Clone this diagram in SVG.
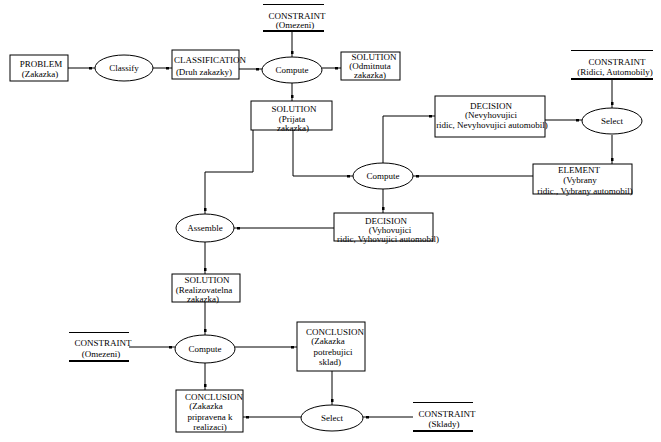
<svg xmlns="http://www.w3.org/2000/svg" width="661" height="442" viewBox="0 0 661 442">
<style>
.bg{fill:#ffffff}
.box{fill:#ffffff;stroke:#000000;stroke-width:1}
.ell{fill:#ffffff;stroke:#000000;stroke-width:1}
.ln{fill:none;stroke:#000000;stroke-width:1}
.thk{fill:none;stroke:#000000;stroke-width:2}
.con{fill:none;stroke:#000000;stroke-width:1;marker-end:url(#sq)}
text{font-family:"Liberation Serif","Times New Roman",serif;font-size:9px;fill:#000000;text-anchor:middle}
</style>
<defs>
<marker id="sq" viewBox="0 0 3 3" markerUnits="userSpaceOnUse" markerWidth="3" markerHeight="3" refX="6" refY="1.5" orient="auto">
<rect x="0" y="0" width="3" height="3" fill="#000000"/>
</marker>
</defs>
<rect class="bg" x="0" y="0" width="661" height="442"/>
<g id="connectors">
<path class="con" d="M68,68 H95"/>
<path class="con" d="M153,68 H172"/>
<path class="con" d="M239,69 H262"/>
<path class="con" d="M292,31 V57"/>
<path class="con" d="M322,68 H341"/>
<path class="con" d="M292,83 V101"/>
<path class="con" d="M612,79 V108"/>
<path class="con" d="M545,120 H582"/>
<path class="con" d="M612,135 V164"/>
<path class="con" d="M533,176 H413"/>
<path class="con" d="M383,163 V116 H435"/>
<path class="con" d="M293,130 V176 H353"/>
<path class="con" d="M253,130 V172 H205 V214"/>
<path class="con" d="M383,189 V213"/>
<path class="con" d="M334,228 H234"/>
<path class="con" d="M205,242 V274"/>
<path class="con" d="M205,302 V335"/>
<path class="con" d="M129,347 H175"/>
<path class="con" d="M235,347 H297"/>
<path class="con" d="M205,363 V390"/>
<path class="con" d="M332,371 V405"/>
<path class="con" d="M301,417 H243"/>
<path class="con" d="M413,417 H363"/>
</g>
<g id="problem">
<rect class="box" x="10" y="55" width="58" height="26"/>
<text x="41" y="67">PROBLEM</text>
<text x="40" y="77">(Zakazka)</text>
</g>
<g id="classify">
<ellipse class="ell" cx="124" cy="68" rx="29" ry="13"/>
<text x="124" y="71">Classify</text>
</g>
<g id="classification">
<rect class="box" x="172" y="50" width="67" height="29"/>
<text x="210" y="63">CLASSIFICATION</text>
<text x="204" y="75">(Druh zakazky)</text>
</g>
<g id="constraint-omezeni-top">
<line class="ln" x1="263" y1="4.5" x2="324" y2="4.5"/>
<line class="thk" x1="263" y1="31" x2="324" y2="31"/>
<text x="297" y="19">CONSTRAINT</text>
<text x="295" y="28">(Omezeni)</text>
</g>
<g id="compute-top">
<ellipse class="ell" cx="292" cy="70" rx="30" ry="13"/>
<text x="292" y="73">Compute</text>
</g>
<g id="solution-odmitnuta">
<rect class="box" x="341" y="52" width="59" height="28"/>
<text x="374" y="60">SOLUTION</text>
<text x="370" y="69">(Odmitnuta</text>
<text x="370" y="78">zakazka)</text>
</g>
<g id="constraint-ridici">
<line class="ln" x1="571" y1="50.5" x2="653" y2="50.5"/>
<line class="thk" x1="571" y1="79" x2="653" y2="79"/>
<text x="617" y="65">CONSTRAINT</text>
<text x="615" y="75">(Ridici, Automobily)</text>
</g>
<g id="solution-prijata">
<rect class="box" x="251" y="101" width="81" height="29"/>
<text x="294" y="112">SOLUTION</text>
<text x="292" y="122">(Prijata</text>
<text x="293" y="131">zakazka)</text>
</g>
<g id="decision-nevyhovujici">
<rect class="box" x="435" y="96" width="110" height="41"/>
<text x="491" y="109">DECISION</text>
<text x="491" y="118">(Nevyhovujici</text>
<text x="492" y="128">ridic, Nevyhovujici automobil)</text>
</g>
<g id="select-top">
<ellipse class="ell" cx="612" cy="121" rx="30" ry="13"/>
<text x="612" y="124">Select</text>
</g>
<g id="compute-mid">
<ellipse class="ell" cx="383" cy="176" rx="30" ry="13"/>
<text x="383" y="179">Compute</text>
</g>
<g id="element">
<rect class="box" x="533" y="164" width="99" height="30"/>
<text x="579" y="173">ELEMENT</text>
<text x="580" y="183">(Vybrany</text>
<text x="585" y="194">ridic., Vybrany automobil)</text>
</g>
<g id="decision-vyhovujici">
<rect class="box" x="334" y="213" width="99" height="28"/>
<text x="386" y="224">DECISION</text>
<text x="390" y="233">(Vyhovujici</text>
<text x="388" y="242">ridic, Vyhovujici automobil)</text>
</g>
<g id="assemble">
<ellipse class="ell" cx="205" cy="228" rx="29" ry="14"/>
<text x="205" y="231">Assemble</text>
</g>
<g id="solution-realizovatelna">
<rect class="box" x="172" y="274" width="68" height="28"/>
<text x="207" y="283">SOLUTION</text>
<text x="204" y="293">(Realizovatelna</text>
<text x="203" y="302">zakazka)</text>
</g>
<g id="compute-bottom">
<ellipse class="ell" cx="205" cy="349" rx="30" ry="14"/>
<text x="205" y="352">Compute</text>
</g>
<g id="constraint-omezeni-left">
<line class="ln" x1="69" y1="332.5" x2="129" y2="332.5"/>
<line class="thk" x1="69" y1="361" x2="129" y2="361"/>
<text x="103" y="346">CONSTRAINT</text>
<text x="101" y="357">(Omezeni)</text>
</g>
<g id="conclusion-potrebujici">
<rect class="box" x="297" y="322" width="68" height="49"/>
<text x="335" y="335">CONCLUSION</text>
<text x="328" y="344">(Zakazka</text>
<text x="333" y="355">potrebujici</text>
<text x="330" y="365">sklad)</text>
</g>
<g id="conclusion-pripravena">
<rect class="box" x="176" y="390" width="67" height="42"/>
<text x="214" y="400">CONCLUSION</text>
<text x="206" y="409">(Zakazka</text>
<text x="210" y="420">pripravena k</text>
<text x="210" y="430">realizaci)</text>
</g>
<g id="select-bottom">
<ellipse class="ell" cx="332" cy="418" rx="31" ry="13"/>
<text x="332" y="421">Select</text>
</g>
<g id="constraint-sklady">
<line class="ln" x1="413" y1="402.5" x2="473" y2="402.5"/>
<line class="thk" x1="413" y1="431" x2="473" y2="431"/>
<text x="447" y="417">CONSTRAINT</text>
<text x="444" y="427">(Sklady)</text>
</g>
</svg>
